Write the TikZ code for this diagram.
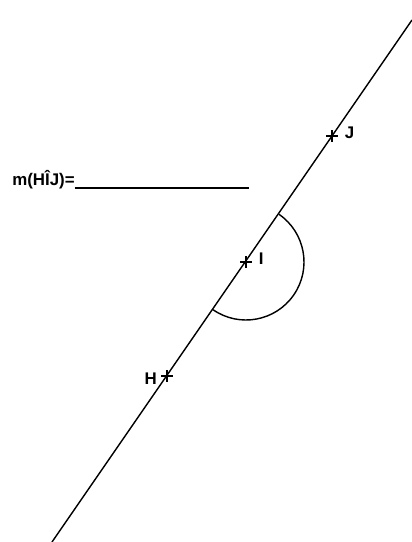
\documentclass[tikz,border=0pt]{standalone}
\usepackage{fontspec}
\setmainfont{Liberation Sans}
\usepackage{tikz}
\usetikzlibrary{calc, shapes.misc, positioning}

\tikzset{
    crossmark/.style={cross out, draw, line width=1.2pt, minimum size=4.5pt, inner sep=0pt, rotate=45},
    lbl/.style={font=\fontsize{12}{14}\selectfont\bfseries, inner sep=0pt}
}

\begin{document}
\begin{tikzpicture}[>=latex, x=0.025cm, y=0.025cm]
    % Khung hình
    \useasboundingbox (0,0) rectangle (412,542);
    
    % Đường thẳng
    \coordinate (A) at (52,0);
    \coordinate (B) at (412,522);
    \draw[line width=1pt] (A) -- (B);
    
    % Các điểm H, I, J
    \node[crossmark] (H) at (167,166) {};
    \node[crossmark] (I) at (246,280) {};
    \node[crossmark] (J) at (332,406) {};
    \node[lbl, left=5pt of H] (lH) {H};
    \node[lbl, right=7pt of I] (lI) {I};
    \node[lbl, right=7pt of J] (lJ) {J};
    
    % Cung nửa đường tròn
    \draw[line width=1pt] (I.center) ++(55.4:58) arc[start angle=55.4, end angle=-124.6, radius=58];
    
    % Dòng chữ
    \node[lbl, anchor=base west] (m) at (12,356) {m(HÎJ)=\rule[-2pt]{4.35cm}{1.6pt}};
\end{tikzpicture}
\end{document}
